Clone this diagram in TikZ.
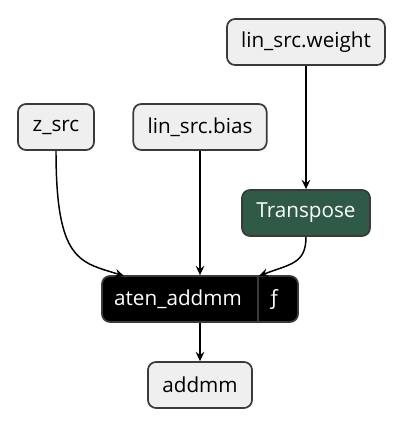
\documentclass[tikz,border=0pt]{standalone}
\usepackage{fontspec}
\setmainfont{Open Sans}
\usetikzlibrary{arrows.meta}
\definecolor{boxfill}{HTML}{EFEFEF}
\definecolor{boxline}{HTML}{3A3A3A}
\definecolor{tgreen}{HTML}{2F5B46}
\tikzset{
  px/.style={x=0.75pt,y=-0.75pt},
  srcbox/.style={draw=boxline,line width=1.3pt,fill=boxfill,rounded corners=6pt,minimum height=34.5pt,inner xsep=6pt,font=\fontsize{15.5pt}{17pt}\selectfont},
  greenbox/.style={srcbox,fill=tgreen,text=white},
  atenbox/.style={draw=boxline,line width=1.3pt,fill=black,rounded corners=6pt,minimum height=34.5pt,minimum width=147pt,inner sep=0pt},
  wtxt/.style={text=white,inner sep=0pt,font=\fontsize{15.5pt}{17pt}\selectfont},
  edge/.style={draw=black,line width=1.1pt,-{Stealth[length=7pt,width=6.5pt,inset=2.5pt]}}
}
\begin{document}
\begin{tikzpicture}[px]
\useasboundingbox (0,0) rectangle (404,428);
\node[srcbox,minimum width=118.5pt] (w) at (306,42) {lin\_src.weight};
\node[srcbox,minimum width=57pt] (z) at (56,127) {z\_src};
\node[srcbox,minimum width=100pt] (b) at (200,127) {lin\_src.bias};
\node[greenbox,minimum width=96pt] (t) at (306,213) {Transpose};
\node[atenbox] (a) at (200,299) {};
\draw[boxline,line width=1pt] (258,277) -- (258,321);
\node[wtxt] (al) at (178,299) {aten\_addmm};
\node[wtxt] (af) at (274,299) {ƒ};
\node[srcbox,minimum width=78pt] (m) at (200,385) {addmm};
\coordinate (aL) at (124,276);
\coordinate (aR) at (259,276);
\draw[edge] (w.south) -- (t.north);
\draw[edge] (b.south) -- (a.north);
\draw[edge] (z.south) .. controls (56,262) and (80,262) .. (aL);
\draw[edge] (t.south) .. controls (306,264) and (290,264) .. (aR);
\draw[edge] (a.south) -- (m.north);
\end{tikzpicture}
\end{document}
